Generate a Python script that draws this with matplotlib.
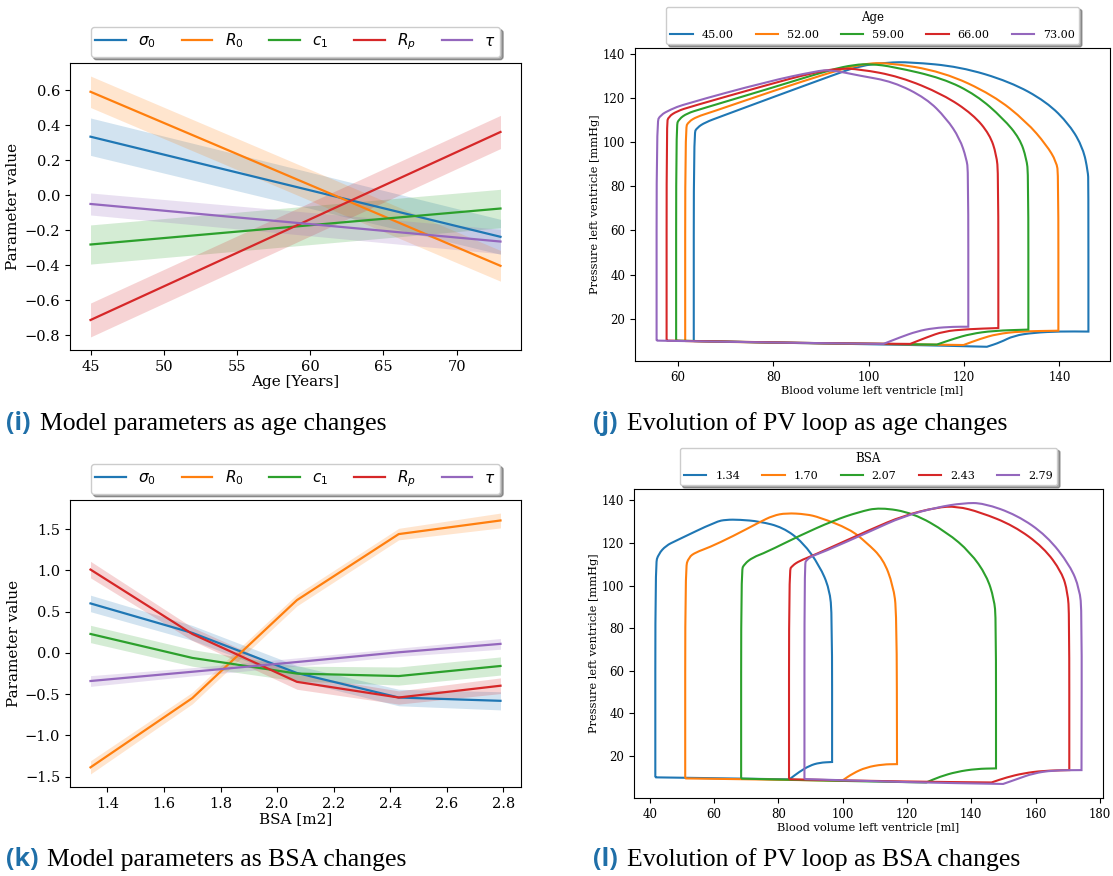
import numpy as np
import matplotlib
matplotlib.use('Agg')
from matplotlib import pyplot as plt
from matplotlib.path import Path
from matplotlib.patches import PathPatch
from matplotlib.lines import Line2D

plt.rcParams['font.family'] = 'serif'
plt.rcParams['font.serif'] = ['DejaVu Serif']

colors = ['#1f77b4', '#ff7f0e', '#2ca02c', '#d62728', '#9467bd']
param_labels = [r'$\sigma_0$', r'$R_0$', r'$c_1$', r'$R_p$', r'$\tau$']

# (i) model parameters vs age
age = [45, 73]
age_mean = [[0.335, -0.238],    # sigma0
            [0.592, -0.404],    # R0
            [-0.282, -0.076],   # c1
            [-0.714, 0.362],    # Rp
            [-0.050, -0.265]]   # tau
age_ci = [[0.107, 0.100],
          [0.090, 0.088],
          [0.112, 0.110],
          [0.097, 0.095],
          [0.063, 0.070]]

# (k) model parameters vs BSA
bsa = [1.34, 1.70, 2.07, 2.43, 2.79]
bsa_mean = [[0.60, 0.243, -0.243, -0.54, -0.58],
            [-1.386, -0.547, 0.64, 1.44, 1.605],
            [0.23, -0.06, -0.25, -0.28, -0.158],
            [1.01, 0.23, -0.35, -0.54, -0.397],
            [-0.34, -0.228, -0.11, 0.008, 0.11]]
bsa_ci = [[0.10, 0.09, 0.09, 0.10, 0.11],
          [0.08, 0.07, 0.07, 0.07, 0.09],
          [0.105, 0.10, 0.09, 0.11, 0.11],
          [0.10, 0.08, 0.09, 0.08, 0.095],
          [0.065, 0.05, 0.05, 0.05, 0.065]]

# (j) PV loops for ages: upper part (ESV up, over the top, down to EDV),
# filling bump, and bottom line back to ESV
age_labels = ['45.00', '52.00', '59.00', '66.00', '73.00']
age_up_vol = [
    [63.3, 63.3, 64.0, 65.7, 68.9, 80.0, 92.6, 98.1, 104.0, 108.6, 119.1, 129.6, 137.3, 142.2, 145.0, 146.0, 146.1, 146.1],
    [61.5, 61.5, 62.2, 64.0, 66.8, 80.0, 92.0, 98.1, 103.7, 115.6, 126.1, 133.1, 137.3, 139.4, 139.8, 139.8],
    [59.6, 59.6, 60.2, 61.9, 64.7, 80.0, 92.0, 97.0, 100.5, 105.1, 115.6, 122.6, 128.2, 131.7, 133.1, 133.5, 133.5],
    [57.6, 57.6, 58.0, 59.8, 62.6, 78.7, 88.0, 93.5, 98.1, 106.5, 115.6, 121.9, 125.4, 126.8, 127.2, 127.2],
    [55.5, 55.5, 56.3, 58.4, 61.2, 78.7, 89.1, 92.0, 98.1, 105.1, 112.1, 116.3, 119.1, 120.5, 120.9, 120.9],
]
age_up_pres = [
    [9.8, 104.1, 106.7, 109.1, 111.7, 120.6, 130.6, 134.8, 136.3, 136.5, 134.4, 127.6, 118.5, 107.9, 97.3, 86.7, 82.0, 14.1],
    [9.8, 106.4, 109.4, 111.7, 113.6, 123.4, 131.8, 135.4, 136.4, 132.1, 121.5, 109.4, 98.8, 91.2, 85.2, 14.5],
    [10.0, 107.6, 110.6, 113.2, 115.1, 125.0, 133.0, 135.3, 135.6, 134.4, 129.1, 121.5, 110.9, 101.8, 92.7, 85.2, 15.0],
    [10.0, 108.6, 111.7, 114.2, 116.2, 126.1, 131.5, 133.6, 133.3, 129.9, 121.8, 112.7, 103.6, 94.5, 85.5, 15.7],
    [10.0, 109.1, 112.4, 114.9, 117.3, 127.6, 132.4, 133.0, 130.3, 127.6, 120.0, 110.9, 101.8, 92.7, 86.7, 16.3],
]
age_bump_vol = [[146.1, 140.2, 134.6, 130.4, 127.6, 124.8],
                [139.8, 131.8, 126.9, 123.4, 119.9],
                [133.5, 126.2, 121.3, 117.8, 114.3],
                [127.2, 120.6, 115.7, 112.2, 108.7],
                [120.9, 117.8, 113.6, 110.1, 106.6, 103.1]]
age_bump_pres = [[14.1, 14.2, 13.6, 12.2, 9.2, 7.2],
                 [14.5, 14.2, 13.0, 10.8, 8.0],
                 [15.0, 14.5, 13.0, 10.8, 8.2],
                 [15.7, 15.2, 14.2, 11.5, 8.5],
                 [16.3, 16.3, 15.7, 14.2, 11.5, 8.5]]
age_low_vol = [[124.8, 110.0, 90.0, 75.0, 63.3],
               [119.9, 105.0, 85.0, 70.0, 61.5],
               [114.3, 100.0, 80.0, 59.6],
               [108.7, 90.0, 75.0, 57.6],
               [103.1, 80.0, 55.5]]
age_low_pres = [[7.2, 8.0, 8.7, 9.3, 9.8],
                [8.0, 8.4, 8.9, 9.4, 9.8],
                [8.2, 8.6, 9.1, 10.0],
                [8.5, 8.8, 9.4, 10.0],
                [8.5, 9.1, 10.0]]

# (l) PV loops for BSA
bsa_labels = ['1.34', '1.70', '2.07', '2.43', '2.79']
bsa_up_vol = [
    [41.7, 41.7, 42.7, 45.0, 48.1, 60.6, 63.7, 67.9, 74.1, 81.4, 87.6, 92.8, 95.9, 96.7, 96.7],
    [51.0, 51.0, 52.1, 54.3, 58.5, 65.8, 74.1, 78.3, 82.4, 88.6, 92.8, 102.2, 107.3, 112.6, 115.7, 116.8, 116.9],
    [68.4, 68.4, 69.4, 72.0, 76.2, 86.6, 97.0, 105.0, 111.6, 122.0, 132.4, 139.7, 144.8, 147.1, 147.7, 147.7],
    [83.3, 83.3, 84.3, 86.6, 90.7, 108.5, 118.9, 129.3, 135.5, 142.8, 153.2, 162.5, 168.2, 170.0, 170.5, 170.5],
    [88.1, 88.1, 88.8, 90.7, 93.8, 108.5, 118.9, 129.3, 137.6, 143.8, 154.2, 163.5, 170.8, 173.7, 174.4, 174.3],
]
bsa_up_pres = [
    [10.0, 110.1, 114.8, 118.7, 121.0, 130.0, 130.9, 130.9, 130.1, 127.3, 120.3, 109.3, 98.4, 85.8, 17.2],
    [9.5, 108.1, 113.3, 115.6, 117.9, 123.1, 129.7, 132.8, 134.0, 133.5, 132.0, 126.5, 120.3, 112.5, 100.0, 87.5, 16.2],
    [9.4, 107.0, 110.1, 113.2, 115.6, 123.4, 130.4, 134.5, 136.7, 134.0, 125.0, 115.6, 104.6, 93.7, 84.3, 14.2],
    [9.1, 107.0, 109.3, 111.6, 114.0, 126.2, 132.8, 136.7, 137.2, 134.4, 128.1, 117.9, 106.2, 96.8, 85.9, 13.4],
    [9.2, 110.1, 112.1, 114.0, 115.6, 125.4, 132.5, 136.7, 138.7, 138.7, 133.1, 123.4, 109.3, 98.4, 87.4, 13.4],
]
bsa_bump_vol = [[96.7, 92.8, 89.7, 86.5, 83.4],
                [116.9, 112.5, 107.3, 103.2, 99.8],
                [147.7, 141.6, 135.4, 130.2, 126.0],
                [170.5, 162.4, 156.2, 151.0, 146.3],
                [174.3, 165.5, 159.3, 154.1, 149.9]]
bsa_bump_pres = [[17.2, 16.9, 15.5, 12.6, 9.05],
                 [16.2, 16.1, 14.7, 11.9, 8.4],
                 [14.2, 14.0, 12.6, 10.3, 7.6],
                 [13.4, 13.1, 11.9, 10.0, 7.6],
                 [13.4, 13.3, 11.9, 9.1, 6.9]]
bsa_low_vol = [[83.4, 60.0, 41.7],
               [99.8, 75.0, 51.0],
               [126.0, 100.0, 68.4],
               [146.3, 120.0, 83.3],
               [149.9, 120.0, 88.1]]
bsa_low_pres = [[9.05, 9.6, 10.0],
                [8.4, 9.0, 9.5],
                [7.6, 8.3, 9.4],
                [7.6, 8.0, 9.1],
                [6.9, 7.7, 9.2]]

W, H = 1113, 876
fig = plt.figure(figsize=(W / 100, H / 100), dpi=100)


def box(x0, y0, x1, y1):
    return [x0 / W, 1 - y1 / H, (x1 - x0) / W, (y1 - y0) / H]


def smooth_piece(vx, vy, first):
    # quadratic b-spline through the read points, ends kept fixed
    p = np.column_stack([vx, vy])
    verts = [p[0]]
    codes = [Path.MOVETO if first else Path.LINETO]
    if len(p) > 2:
        verts.append((p[0] + p[1]) / 2)
        codes.append(Path.LINETO)
        for i in range(1, len(p) - 1):
            verts += [p[i], (p[i] + p[i + 1]) / 2]
            codes += [Path.CURVE3, Path.CURVE3]
    verts.append(p[-1])
    codes.append(Path.LINETO)
    return verts, codes


def param_panel(rect, x, means, cis, xlabel):
    ax = fig.add_axes(rect)
    x = np.array(x)
    for m, e, c, lab in zip(means, cis, colors, param_labels):
        m = np.array(m)
        e = np.array(e)
        ax.fill_between(x, m - e, m + e, color=c, alpha=0.2, lw=0)
        ax.plot(x, m, color=c, lw=1.6, label=lab)
    ax.set_xlabel(xlabel, fontsize=11, labelpad=1)
    ax.set_ylabel('Parameter value', fontsize=11, labelpad=3)
    ax.tick_params(labelsize=10.5)
    ax.legend(loc='lower center', bbox_to_anchor=(0.5, 1.0), ncol=5, shadow=True,
              borderaxespad=0.4, borderpad=0.3, columnspacing=1.7,
              prop={'family': 'DejaVu Sans', 'size': 11})
    return ax


def loop_panel(rect, up_v, up_p, bump_v, bump_p, low_v, low_p, labels, title):
    ax = fig.add_axes(rect)
    handles = []
    for i, c in enumerate(colors):
        verts, codes = smooth_piece(up_v[i], up_p[i], True)
        for vx, vy in [(bump_v[i], bump_p[i]), (low_v[i], low_p[i])]:
            v2, c2 = smooth_piece(vx, vy, False)
            verts += v2
            codes += c2
        ax.add_patch(PathPatch(Path(verts, codes), fill=False, edgecolor=c, lw=1.5))
        handles.append(Line2D([], [], color=c, lw=1.5, label=labels[i]))
    ax.autoscale_view()
    ax.set_xlabel('Blood volume left ventricle [ml]', fontsize=8.2, labelpad=1)
    ax.set_ylabel('Pressure left ventricle [mmHg]', fontsize=8.2, labelpad=2)
    ax.tick_params(labelsize=8.5)
    ax.legend(handles=handles, loc='lower center', bbox_to_anchor=(0.5, 1.0), ncol=5, shadow=True,
              fontsize=8, title=title, title_fontsize=8.5, borderaxespad=0.35)
    return ax


param_panel(box(70, 63, 521, 350), age, age_mean, age_ci, 'Age [Years]')
loop_panel(box(635, 48, 1110, 361), age_up_vol, age_up_pres, age_bump_vol, age_bump_pres,
           age_low_vol, age_low_pres, age_labels, 'Age')
param_panel(box(70, 500, 521, 787), bsa, bsa_mean, bsa_ci, 'BSA [m2]')
loop_panel(box(634, 489, 1103, 798), bsa_up_vol, bsa_up_pres, bsa_bump_vol, bsa_bump_pres,
           bsa_low_vol, bsa_low_pres, bsa_labels, 'BSA')

# captions
cap_blue = '#1f6fa8'
captions = [(6, 40, 430, '(i)', 'Model parameters as age changes'),
            (593, 627, 430, '(j)', 'Evolution of PV loop as age changes'),
            (6, 47, 866, '(k)', 'Model parameters as BSA changes'),
            (593, 627, 866, '(l)', 'Evolution of PV loop as BSA changes')]
for xl, xt, yb, lab, txt in captions:
    fig.text(xl / W, 1 - yb / H, lab, fontsize=18, color=cap_blue, fontweight='bold',
             family='Open Sans', va='baseline')
    fig.text(xt / W, 1 - yb / H, txt, fontsize=18.5, family='Liberation Serif', va='baseline')

plt.savefig('out.png', dpi=100)
